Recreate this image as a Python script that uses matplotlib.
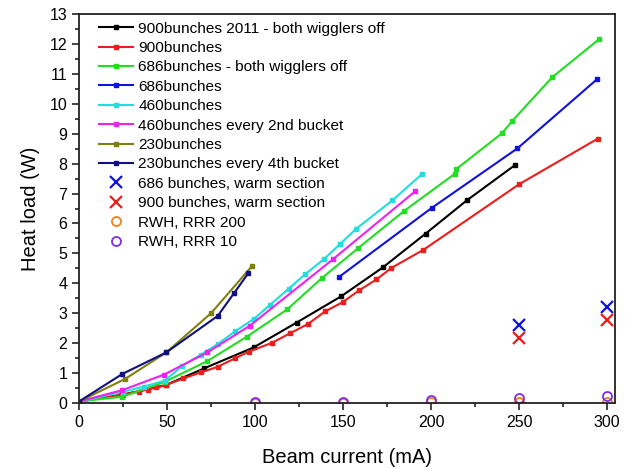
import matplotlib
matplotlib.use("Agg")
import matplotlib.pyplot as plt
from matplotlib.ticker import MultipleLocator

plt.rcParams['font.family'] = ['Liberation Sans', 'DejaVu Sans']

# ---- data ----
x_900_2011 = [0, 24, 49.4, 71.2, 99.3, 123.7, 148.8, 172.6, 196.9, 220.3, 247.9]
y_900_2011 = [0.05, 0.27, 0.6, 1.16, 1.86, 2.69, 3.56, 4.53, 5.66, 6.77, 7.96]

x_900 = [0, 25, 34, 39, 44, 49.4, 59.3, 69.2, 78.8, 88.8, 96.6, 109.6, 119.9,
         130.1, 139.8, 149.8, 159.3, 169, 177.4, 195.7, 250, 294.6]
y_900 = [0.05, 0.28, 0.38, 0.45, 0.52, 0.6, 0.82, 1.02, 1.21, 1.5, 1.72, 2.01,
         2.33, 2.64, 3.06, 3.37, 3.77, 4.13, 4.51, 5.12, 7.31, 8.83]

x_686_off = [0, 24.6, 48.8, 72.9, 95.2, 118.3, 137.9, 158.7, 184.5, 213.5,
             214.2, 240.2, 246.2, 268.9, 295.5]
y_686_off = [0.05, 0.21, 0.71, 1.4, 2.21, 3.13, 4.17, 5.18, 6.41, 7.66, 7.81,
             9.01, 9.43, 10.89, 12.16]

x_686 = [147.9, 200.4, 249.1, 294.3]
y_686 = [4.22, 6.52, 8.51, 10.82]

x_460 = [0, 25.2, 37, 48.8, 58.7, 69.3, 78.8, 88.8, 99.6, 108.5, 119.1, 128.4,
         139, 148.1, 157.2, 178, 195]
y_460 = [0.05, 0.38, 0.55, 0.75, 1.24, 1.62, 1.97, 2.4, 2.82, 3.28, 3.82, 4.3,
         4.8, 5.3, 5.81, 6.77, 7.66]

x_460_2nd = [0, 24.6, 48.3, 72.9, 97, 144.2, 191.1]
y_460_2nd = [0.05, 0.43, 0.95, 1.69, 2.58, 4.8, 7.08]

x_230 = [0, 26.1, 49.6, 75, 98.5]
y_230 = [0.05, 0.8, 1.69, 3.0, 4.59]

x_230_4th = [0, 24.6, 49.6, 78.8, 88.3, 96.2]
y_230_4th = [0.05, 0.97, 1.69, 2.91, 3.69, 4.34]

x_warm = [250, 300]
y_warm_686 = [2.6, 3.22]
y_warm_900 = [2.17, 2.78]

x_rwh = [100, 150, 200, 250, 300]
y_rwh_200 = [0.005, 0.01, 0.02, 0.03, 0.05]
y_rwh_10 = [0.02, 0.05, 0.1, 0.17, 0.25]

labels = ["900bunches 2011 - both wigglers off", "900bunches",
          "686bunches - both wigglers off", "686bunches", "460bunches",
          "460bunches every 2nd bucket", "230bunches",
          "230bunches every 4th bucket", "686 bunches, warm section",
          "900 bunches, warm section", "RWH, RRR 200", "RWH, RRR 10"]

# ---- figure ----
fig = plt.figure(figsize=(6.3, 4.68), dpi=100)
ax = fig.add_axes([79/630, 1-403/468, (615-79)/630, (403-14)/468])

line_series = [
    (x_900_2011, y_900_2011, '#000000'),
    (x_900, y_900, '#ee1c1c'),
    (x_686_off, y_686_off, '#22dd22'),
    (x_686, y_686, '#1010e0'),
    (x_460, y_460, '#22dddd'),
    (x_460_2nd, y_460_2nd, '#ee22ee'),
    (x_230, y_230, '#808010'),
    (x_230_4th, y_230_4th, '#101080'),
]
for (xs, ys, c), lab in zip(line_series, labels[:8]):
    ax.plot(xs, ys, color=c, lw=1.5, marker='s', ms=3.5, mec=c, mfc=c, label=lab)

ax.plot(x_warm, y_warm_686, ls='none', marker='x', ms=8, mew=1.6,
        color='#1010e0', label=labels[8])
ax.plot(x_warm, y_warm_900, ls='none', marker='x', ms=8, mew=1.6,
        color='#ee1c1c', label=labels[9])
ax.plot(x_rwh, y_rwh_200, ls='none', marker='o', ms=6.5, mew=1.3, mfc='none',
        mec='#f08020', label=labels[10])
ax.plot(x_rwh, y_rwh_10, ls='none', marker='o', ms=6.5, mew=1.3, mfc='none',
        mec='#8030e0', label=labels[11])

ax.set_xlim(0, 304.5)
ax.set_ylim(0, 13)
ax.xaxis.set_major_locator(MultipleLocator(50))
ax.xaxis.set_minor_locator(MultipleLocator(25))
ax.yaxis.set_major_locator(MultipleLocator(1))
ax.yaxis.set_minor_locator(MultipleLocator(0.5))
ax.tick_params(which='both', direction='out', top=False, right=False,
               labelsize=11.5, width=1.2, color='#222222')
ax.tick_params(which='major', length=5)
ax.tick_params(which='minor', length=3)
for s in ax.spines.values():
    s.set_linewidth(1.3)
    s.set_color('#222222')

ax.set_xlabel("Beam current (mA)", fontsize=14.5, labelpad=13)
ax.set_ylabel("Heat load (W)", fontsize=14.5, labelpad=7)

ax.legend(loc='upper left', bbox_to_anchor=(0.02, 1.004), frameon=False,
          fontsize=11.1, handlelength=2.2, handletextpad=0.35,
          labelspacing=0.35, borderaxespad=0.2)

fig.savefig("out.png", dpi=100)
